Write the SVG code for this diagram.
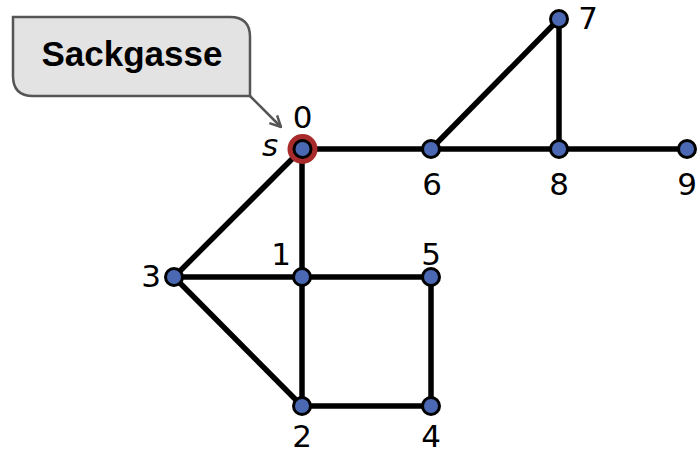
<svg xmlns="http://www.w3.org/2000/svg" width="698" height="451" viewBox="0 0 698 451">
<style>
.e{stroke:#000;stroke-width:5.5;fill:none}
.n{fill:#4a69b2;stroke:#000;stroke-width:3}
.l{font-family:"DejaVu Sans","Liberation Sans",sans-serif;font-size:31px;fill:#000;text-anchor:middle}
</style>
<defs>
<marker id="ah" viewBox="0 0 14 14" refX="13" refY="7" markerWidth="14" markerHeight="14" orient="auto" markerUnits="userSpaceOnUse">
<path d="M2,1.5 L13,7 L2,12.5" fill="none" stroke="#555" stroke-width="2.5"/>
</marker>
</defs>
<rect width="698" height="451" fill="#fff"/>
<g id="connectors">
<line class="e" x1="302" y1="149" x2="687" y2="149"/>
<line class="e" x1="431" y1="149" x2="559" y2="19"/>
<line class="e" x1="559" y1="19" x2="559" y2="149"/>
<line class="e" x1="302" y1="149" x2="302" y2="406"/>
<line class="e" x1="302" y1="149" x2="174" y2="277"/>
<line class="e" x1="174" y1="277" x2="431" y2="277"/>
<line class="e" x1="174" y1="277" x2="302" y2="406"/>
<line class="e" x1="431" y1="277" x2="431" y2="406"/>
<line class="e" x1="302" y1="406" x2="431" y2="406"/>
</g>
<g id="callout">
<path d="M13,17 L230,17 Q250,17 250,37 L250,96 L33,96 Q13,96 13,76 Z" fill="#e3e3e3" stroke="#555" stroke-width="2.5"/>
<path d="M250,96 L281,127" fill="none" stroke="#555" stroke-width="2.5" marker-end="url(#ah)"/>
<text x="132" y="66" font-family="Liberation Sans,Arial,sans-serif" font-weight="bold" font-size="35" text-anchor="middle">Sackgasse</text>
</g>
<g id="n0"><circle cx="302.5" cy="149" r="15" fill="#a82a2a"/><circle class="n" cx="302.5" cy="149" r="8.5"/><text class="l" x="302.5" y="128">0</text><text class="l" x="270" y="156" font-size="37" font-style="italic">s</text></g>
<g id="n1"><circle class="n" cx="302" cy="277" r="8.5"/><text class="l" x="281" y="265">1</text></g>
<g id="n2"><circle class="n" cx="302" cy="406" r="8.5"/><text class="l" x="302" y="447">2</text></g>
<g id="n3"><circle class="n" cx="174" cy="277" r="8.5"/><text class="l" x="151" y="287">3</text></g>
<g id="n4"><circle class="n" cx="431" cy="406" r="8.5"/><text class="l" x="431" y="447">4</text></g>
<g id="n5"><circle class="n" cx="431" cy="277" r="8.5"/><text class="l" x="431" y="265">5</text></g>
<g id="n6"><circle class="n" cx="431" cy="149" r="8.5"/><text class="l" x="432" y="195">6</text></g>
<g id="n7"><circle class="n" cx="559" cy="19" r="8.5"/><text class="l" x="588" y="29">7</text></g>
<g id="n8"><circle class="n" cx="559" cy="149" r="8.5"/><text class="l" x="559" y="195">8</text></g>
<g id="n9"><circle class="n" cx="687" cy="149" r="8.5"/><text class="l" x="687" y="195">9</text></g>
</svg>
